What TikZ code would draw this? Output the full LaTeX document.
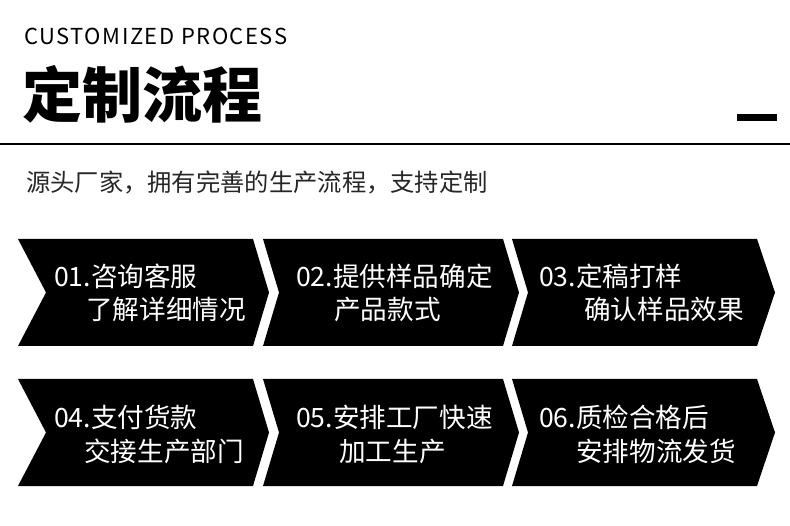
\documentclass[tikz,border=0pt]{standalone}
\usepackage{fontspec}
\setmainfont{Noto Sans CJK SC}
\usetikzlibrary{positioning}

\begin{document}
\begin{tikzpicture}[x=1pt, y=-1pt,
    chev/.style={fill=black},
    hd/.style={anchor=base west, inner sep=0pt},
    steptxt/.style={anchor=base west, inner sep=0pt, text=white, font=\fontsize{26.6}{30}\selectfont}]
    \useasboundingbox (0,0) rectangle (790,526);

    % header
    \node[hd, font=\fontsize{22}{26}\selectfont\addfontfeature{LetterSpace=7}] (entitle) at (24,45) {CUSTOMIZED PROCESS};
    \node[hd, font=\fontsize{60}{64}\selectfont\bfseries] (cntitle) at (22,118) {定制流程};
    \fill (737,114) rectangle (777,121);
    \draw[line width=2pt] (0,143.7) -- (790,143.7);
    \node[hd, text=black!85, font=\fontsize{24.3}{28}\selectfont] (sub) at (26,192) {源头厂家，拥有完善的生产流程，支持定制};

    % chevrons
    \foreach \T in {239,379} {
      \pgfmathsetmacro\B{\T+107}
      \pgfmathsetmacro\M{\T+53.5}
      \fill[chev] (18,\T) -- (253,\T) -- (269,\M) -- (253,\B) -- (18,\B) -- (46,\M) -- cycle;
      \fill[chev] (263,\T) -- (503,\T) -- (519,\M) -- (503,\B) -- (263,\B) -- (279,\M) -- cycle;
      \fill[chev] (512,\T) -- (757,\T) -- (775,\M) -- (757,\B) -- (512,\B) -- (528,\M) -- cycle;
    }

    % step texts
    \node[steptxt] (s1a) at (54,287) {01.咨询客服};
    \node[steptxt] (s1b) at (86,320) {了解详细情况};
    \node[steptxt] (s2a) at (296,287) {02.提供样品确定};
    \node[steptxt] (s2b) at (334,320) {产品款式};
    \node[steptxt] (s3a) at (539,287) {03.定稿打样};
    \node[steptxt] (s3b) at (584,320) {确认样品效果};
    \node[steptxt] (s4a) at (54,428) {04.支付货款};
    \node[steptxt] (s4b) at (84,461) {交接生产部门};
    \node[steptxt] (s5a) at (296,428) {05.安排工厂快速};
    \node[steptxt] (s5b) at (339,461) {加工生产};
    \node[steptxt] (s6a) at (539,428) {06.质检合格后};
    \node[steptxt] (s6b) at (576,461) {安排物流发货};
\end{tikzpicture}
\end{document}
